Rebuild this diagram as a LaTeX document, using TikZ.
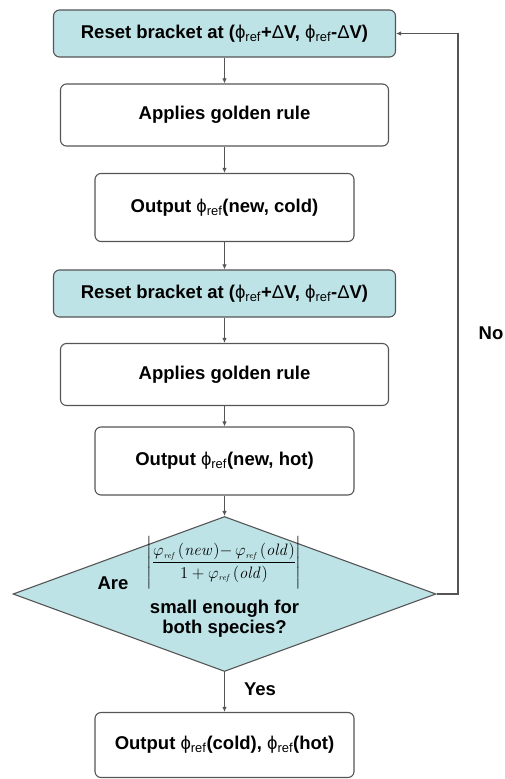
\RequirePackage{fix-cm}
\documentclass[tikz,border=0pt]{standalone}
\usepackage[no-math]{fontspec}
\setmainfont{Liberation Sans}
\usepackage{amsmath}
\usetikzlibrary{shapes.geometric,arrows.meta}

\definecolor{bracketfill}{RGB}{190,227,230}
\definecolor{linegray}{RGB}{85,85,85}

% phi_ref and Delta V in the box texts (thin, not bold)
\newcommand{\phr}{{\mdseries ϕ\textsubscript{ref}}}
\newcommand{\dV}{{\mdseries Δ}V}
% phi_ref in the test ratio
\newcommand{\mphr}{\varphi_{\scriptscriptstyle\mathit{ref}}\mkern2mu}

\tikzset{
    box/.style={draw=linegray, line width=1.1pt, rounded corners=6pt, inner sep=0pt,
        font=\fontsize{18.5}{21}\selectfont\bfseries},
    resetbox/.style={box, fill=bracketfill, minimum width=342pt, minimum height=47pt},
    rulebox/.style={box, minimum width=328pt, minimum height=62pt},
    outbox/.style={box, minimum width=259pt, minimum height=68pt},
    label/.style={inner sep=0pt, font=\fontsize{18.5}{20}\selectfont\bfseries},
    flow/.style={draw=linegray, line width=1.1pt, -{Latex[length=5pt,width=4.5pt]}},
}

\begin{document}
\begin{tikzpicture}[x=1pt, y=-1pt]
    \useasboundingbox (0,0) rectangle (504,779);

    % First pass: cold species
    \node[resetbox] (reset1) at (224.5,33.5) {Reset bracket at (\phr+\dV, \phr-\dV)};
    \node[rulebox] (golden1) at (224.5,115) {Applies golden rule};
    \node[outbox] (cold) at (224.5,207.5) {Output \phr(new, cold)};

    % Second pass: hot species
    \node[resetbox] (reset2) at (224.5,293.5) {Reset bracket at (\phr+\dV, \phr-\dV)};
    \node[rulebox] (golden2) at (224.5,374.5) {Applies golden rule};
    \node[outbox] (hot) at (224.5,461) {Output \phr(new, hot)};

    % Convergence test
    \node[diamond, draw=linegray, line width=1.1pt, fill=bracketfill, inner sep=0pt,
        minimum width=423pt, minimum height=155pt] (check) at (224.5,594) {};
    \node[label] (are) at (113,583) {Are};
    \node[inner sep=0pt, font=\fontsize{16.5}{20}\selectfont] (ratio) at (224,562.5)
        {$\left|\dfrac{\rule{0pt}{19pt}\mphr(\mathit{new}){-}\,\mphr(\mathit{old})}{1+\mphr(\mathit{old})\rule[-4pt]{0pt}{4pt}}\right|$};
    \node[label, align=center] (small) at (224.5,619) {small enough for\\both species?};

    % Result
    \node[outbox, minimum height=65pt] (final) at (224.5,745) {Output \phr(cold), \phr(hot)};

    % Connectors
    \draw[flow] (reset1) -- (golden1);
    \draw[flow] (golden1) -- (cold);
    \draw[flow] (cold) -- (reset2);
    \draw[flow] (reset2) -- (golden2);
    \draw[flow] (golden2) -- (hot);
    \draw[flow] (hot) -- (check);
    \draw[flow] (check) -- (final);

    % Loop back when not converged
    \coordinate (loop) at (458,594);
    \draw[flow] (check.east) -- (loop) |- (reset1.east);
    \node[label] (no) at (491,333) {No};
    \node[label] (yes) at (260,689) {Yes};
\end{tikzpicture}
\end{document}
